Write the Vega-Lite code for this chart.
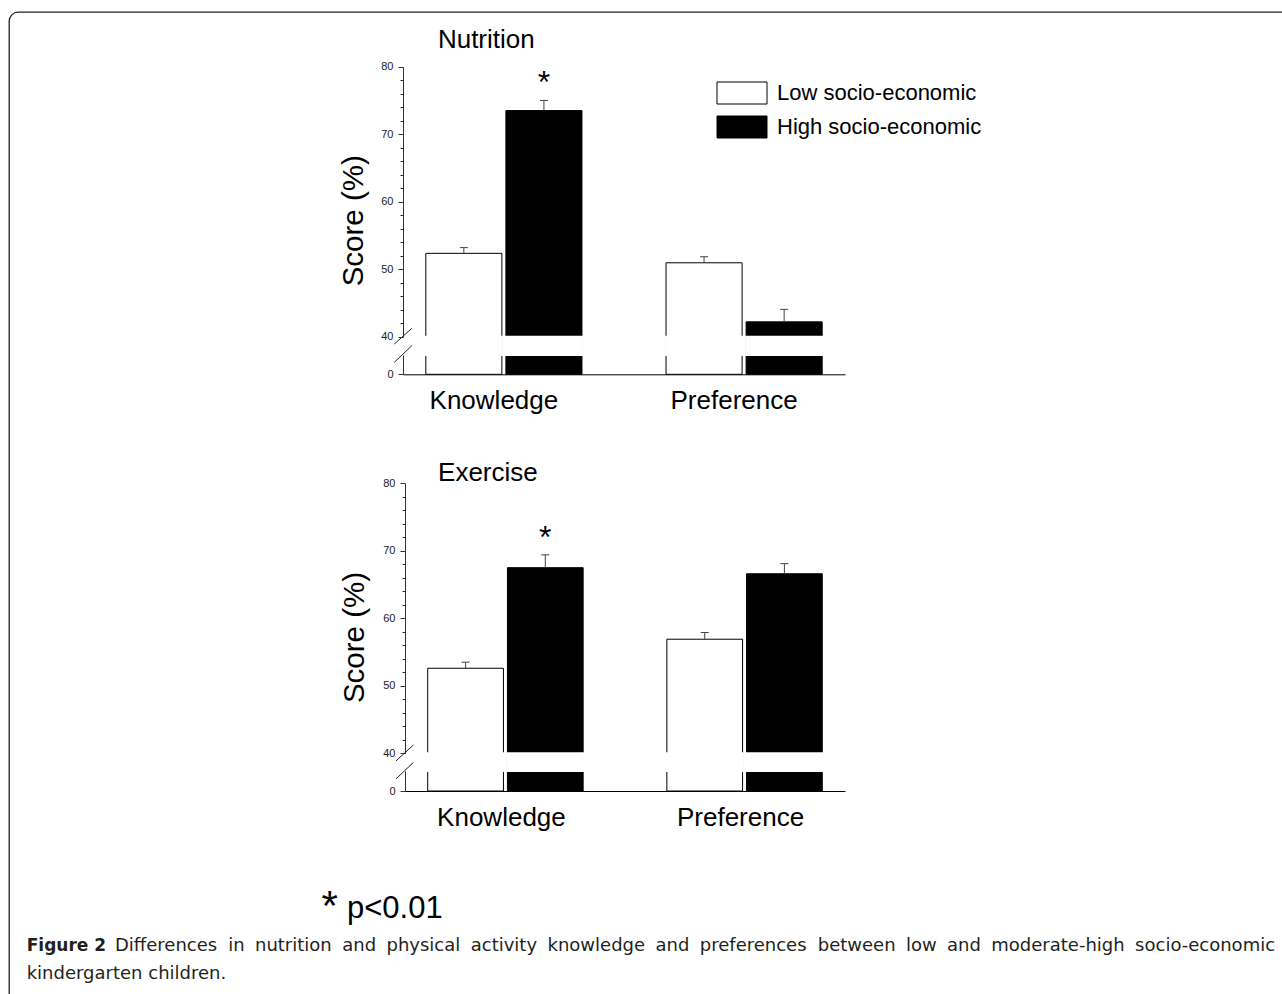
{
  "$schema": "https://vega.github.io/schema/vega-lite/v6.json",
  "width": 1290,
  "height": 1000,
  "autosize": {"type": "none"},
  "padding": {"left": 9, "top": 12, "right": 0, "bottom": 0},
  "background": "white",
  "config": {
    "view": {"stroke": "#222", "strokeWidth": 1.3, "cornerRadius": 9},
    "font": "Liberation Sans"
  },
  "datasets": {
    "nutrition": [
      {"item": "Knowledge", "group": "Low socio-economic", "score": 52.35, "upper": 53.2, "sig": ""},
      {"item": "Knowledge", "group": "High socio-economic", "score": 73.5, "upper": 75.0, "sig": "*"},
      {"item": "Preference", "group": "Low socio-economic", "score": 50.95, "upper": 51.85, "sig": ""},
      {"item": "Preference", "group": "High socio-economic", "score": 42.2, "upper": 44.05, "sig": ""}
    ],
    "exercise": [
      {"item": "Knowledge", "group": "Low socio-economic", "score": 52.6, "upper": 53.5, "sig": ""},
      {"item": "Knowledge", "group": "High socio-economic", "score": 67.5, "upper": 69.4, "sig": "*"},
      {"item": "Preference", "group": "Low socio-economic", "score": 56.9, "upper": 57.9, "sig": ""},
      {"item": "Preference", "group": "High socio-economic", "score": 66.6, "upper": 68.1, "sig": ""}
    ]
  },
  "layer": [
    {
      "data": {"name": "nutrition"},
      "layer": [
        {
          "mark": {"type": "bar", "stroke": "#000", "strokeWidth": 1},
          "encoding": {
            "x": {
              "field": "item", "type": "nominal",
              "scale": {"domain": ["Knowledge", "Preference"], "range": [394, 836], "paddingInner": 0.35, "paddingOuter": 0.095},
              "axis": {"orient": "bottom", "offset": -637.7, "title": null, "ticks": false, "labelAngle": 0, "labelFont": "Liberation Sans", "labelFontSize": 26, "labelColor": "#000", "labelPadding": 13, "labelOffset": -10, "domainColor": "#000", "domainWidth": 1, "grid": false}
            },
            "xOffset": {"field": "group", "type": "nominal", "scale": {"domain": ["Low socio-economic", "High socio-economic"], "paddingInner": 0.05, "paddingOuter": 0}},
            "y": {
              "field": "score", "type": "quantitative", "stack": null, "title": "Score (%)",
              "scale": {"domain": [0, 30, 40, 80], "range": [362.3, 343, 324.7, 54.7], "nice": false, "zero": false},
              "axis": {
                "orient": "left", "offset": -394, "grid": false,
                "values": [0, 40, 42, 44, 46, 48, 50, 52, 54, 56, 58, 60, 62, 64, 66, 68, 70, 72, 74, 76, 78, 80],
                "labelExpr": "datum.value % 10 === 0 ? datum.label : ''",
                "tickSize": {"condition": {"test": "datum.value % 10 === 0", "value": 5}, "value": 3},
                "labelOverlap": false, "labelFont": "Liberation Sans", "labelFontSize": 11, "labelColor": "#222", "labelPadding": 5,
                "domainColor": "#333", "tickColor": "#333", "domainDash": [19.3, 18.3, 400],
                "title": "Score (%)", "titleFont": "Liberation Sans", "titleFontSize": 29.5, "titleFontWeight": "normal", "titleColor": "#000",
                "titleAngle": -90, "titleX": -41, "titleY": 208.3, "titleAlign": "center", "titleBaseline": "alphabetic"
              }
            },
            "fill": {
              "field": "group", "type": "nominal",
              "scale": {"domain": ["Low socio-economic", "High socio-economic"], "range": ["#ffffff", "#000000"]},
              "legend": {"title": null, "orient": "none", "legendX": 720, "legendY": 68, "symbolType": "M-2,-0.88H2V0.88H-2Z", "symbolSize": 625, "symbolStrokeColor": "#000", "symbolStrokeWidth": 1, "symbolOpacity": 1, "labelFont": "Liberation Sans", "labelFontSize": 22, "labelColor": "#000", "labelOffset": 22, "rowPadding": 8, "labelLimit": 400}
            }
          }
        },
        {
          "mark": {"type": "bar", "fill": "#ffffff", "stroke": "#ffffff", "strokeWidth": 2},
          "encoding": {
            "x": {"field": "item", "type": "nominal"},
            "xOffset": {"field": "group", "type": "nominal"},
            "y": {"datum": 30},
            "y2": {"datum": 40}
          }
        },
        {
          "mark": {"type": "rule", "color": "#444", "strokeWidth": 1},
          "encoding": {
            "x": {"field": "item", "type": "nominal"},
            "xOffset": {"field": "group", "type": "nominal"},
            "y": {"field": "score", "type": "quantitative", "title": "Score (%)"},
            "y2": {"field": "upper"}
          }
        },
        {
          "mark": {"type": "tick", "orient": "horizontal", "color": "#444", "size": 8, "thickness": 1, "opacity": 1},
          "encoding": {
            "x": {"field": "item", "type": "nominal"},
            "xOffset": {"field": "group", "type": "nominal"},
            "y": {"field": "upper", "type": "quantitative", "title": "Score (%)"}
          }
        },
        {
          "mark": {"type": "text", "fontSize": 32, "color": "#000", "baseline": "alphabetic", "align": "center", "dy": -7},
          "encoding": {
            "x": {"field": "item", "type": "nominal"},
            "xOffset": {"field": "group", "type": "nominal"},
            "y": {"field": "upper", "type": "quantitative", "title": "Score (%)"},
            "text": {"field": "sig"}
          }
        },
        {
          "data": {"values": [{}]},
          "mark": {"type": "text", "text": "Nutrition", "fontSize": 26, "color": "#000", "align": "left", "baseline": "alphabetic", "dx": -66},
          "encoding": {"x": {"datum": "Knowledge"}, "y": {"datum": 82.7}}
        },
        {
          "data": {"values": [{}]},
          "mark": {"type": "rule", "color": "#222", "strokeWidth": 1},
          "encoding": {"x": {"value": 385.3}, "x2": {"value": 402.8}, "y": {"datum": 36.0}, "y2": {"datum": 41.24}}
        },
        {
          "data": {"values": [{}]},
          "mark": {"type": "rule", "color": "#222", "strokeWidth": 1},
          "encoding": {"x": {"value": 385.3}, "x2": {"value": 402.8}, "y": {"datum": 18.65}, "y2": {"datum": 35.08}}
        }
      ]
    },
    {
      "data": {"name": "exercise"},
      "layer": [
        {
          "mark": {"type": "bar", "stroke": "#000", "strokeWidth": 1},
          "encoding": {
            "x": {
              "field": "item", "type": "nominal",
              "scale": {"domain": ["Knowledge", "Preference"], "range": [396, 836], "paddingInner": 0.35, "paddingOuter": 0.095},
              "axis": {"orient": "bottom", "offset": -221, "title": null, "ticks": false, "labelAngle": 0, "labelFont": "Liberation Sans", "labelFontSize": 26, "labelColor": "#000", "labelPadding": 13, "labelOffset": -4, "domainColor": "#000", "domainWidth": 1, "grid": false}
            },
            "xOffset": {"field": "group", "type": "nominal", "scale": {"domain": ["Low socio-economic", "High socio-economic"], "paddingInner": 0.05, "paddingOuter": 0}},
            "y": {
              "field": "score", "type": "quantitative", "stack": null, "title": "Score (%)",
              "scale": {"domain": [0, 30, 40, 80], "range": [779, 759, 741.3, 471.3], "nice": false, "zero": false},
              "axis": {
                "orient": "left", "offset": -396, "grid": false,
                "values": [0, 40, 42, 44, 46, 48, 50, 52, 54, 56, 58, 60, 62, 64, 66, 68, 70, 72, 74, 76, 78, 80],
                "labelExpr": "datum.value % 10 === 0 ? datum.label : ''",
                "tickSize": {"condition": {"test": "datum.value % 10 === 0", "value": 5}, "value": 3},
                "labelOverlap": false, "labelFont": "Liberation Sans", "labelFontSize": 11, "labelColor": "#222", "labelPadding": 5,
                "domainColor": "#333", "tickColor": "#333", "domainDash": [20, 17.7, 400],
                "title": "Score (%)", "titleFont": "Liberation Sans", "titleFontSize": 29.5, "titleFontWeight": "normal", "titleColor": "#000",
                "titleAngle": -90, "titleX": -42, "titleY": 625, "titleAlign": "center", "titleBaseline": "alphabetic"
              }
            },
            "fill": {
              "field": "group", "type": "nominal",
              "scale": {"domain": ["Low socio-economic", "High socio-economic"], "range": ["#ffffff", "#000000"]},
              "legend": {"title": null, "orient": "none", "legendX": 720, "legendY": 68, "symbolType": "M-2,-0.88H2V0.88H-2Z", "symbolSize": 625, "symbolStrokeColor": "#000", "symbolStrokeWidth": 1, "symbolOpacity": 1, "labelFont": "Liberation Sans", "labelFontSize": 22, "labelColor": "#000", "labelOffset": 22, "rowPadding": 8, "labelLimit": 400}
            }
          }
        },
        {
          "mark": {"type": "bar", "fill": "#ffffff", "stroke": "#ffffff", "strokeWidth": 2},
          "encoding": {
            "x": {"field": "item", "type": "nominal"},
            "xOffset": {"field": "group", "type": "nominal"},
            "y": {"datum": 30},
            "y2": {"datum": 40}
          }
        },
        {
          "mark": {"type": "rule", "color": "#444", "strokeWidth": 1},
          "encoding": {
            "x": {"field": "item", "type": "nominal"},
            "xOffset": {"field": "group", "type": "nominal"},
            "y": {"field": "score", "type": "quantitative", "title": "Score (%)"},
            "y2": {"field": "upper"}
          }
        },
        {
          "mark": {"type": "tick", "orient": "horizontal", "color": "#444", "size": 8, "thickness": 1, "opacity": 1},
          "encoding": {
            "x": {"field": "item", "type": "nominal"},
            "xOffset": {"field": "group", "type": "nominal"},
            "y": {"field": "upper", "type": "quantitative", "title": "Score (%)"}
          }
        },
        {
          "mark": {"type": "text", "fontSize": 32, "color": "#000", "baseline": "alphabetic", "align": "center", "dy": -7},
          "encoding": {
            "x": {"field": "item", "type": "nominal"},
            "xOffset": {"field": "group", "type": "nominal"},
            "y": {"field": "upper", "type": "quantitative", "title": "Score (%)"},
            "text": {"field": "sig"}
          }
        },
        {
          "data": {"values": [{}]},
          "mark": {"type": "text", "text": "Exercise", "fontSize": 26, "color": "#000", "align": "left", "baseline": "alphabetic", "dx": -67.4},
          "encoding": {"x": {"datum": "Knowledge"}, "y": {"datum": 80.39}}
        },
        {
          "data": {"values": [{}]},
          "mark": {"type": "rule", "color": "#222", "strokeWidth": 1},
          "encoding": {"x": {"value": 387}, "x2": {"value": 404.5}, "y": {"datum": 35.7}, "y2": {"datum": 41.24}}
        },
        {
          "data": {"values": [{}]},
          "mark": {"type": "rule", "color": "#222", "strokeWidth": 1},
          "encoding": {"x": {"value": 387}, "x2": {"value": 404.5}, "y": {"datum": 18.15}, "y2": {"datum": 34.9}}
        }
      ]
    },
    {
      "data": {"values": [{}]},
      "layer": [
        {"mark": {"type": "text", "text": "*", "font": "Liberation Sans", "fontSize": 42, "color": "#000", "align": "left", "baseline": "alphabetic", "x": 312.5, "y": 908}},
        {"mark": {"type": "text", "text": "p<0.01", "font": "Liberation Sans", "fontSize": 31, "color": "#000", "align": "left", "baseline": "alphabetic", "x": 338, "y": 905.7}},
        {"mark": {"type": "text", "text": "Figure 2", "font": "DejaVu Sans", "fontWeight": "bold", "fontSize": 17, "color": "#231f20", "align": "left", "baseline": "alphabetic", "x": 17.7, "y": 938.7}},
        {"mark": {"type": "text", "text": "Differences", "font": "DejaVu Sans", "fontSize": 18, "color": "#231f20", "align": "left", "baseline": "alphabetic", "x": 106, "y": 938.7}},
        {"mark": {"type": "text", "text": "in", "font": "DejaVu Sans", "fontSize": 18, "color": "#231f20", "align": "left", "baseline": "alphabetic", "x": 219.2, "y": 938.7}},
        {"mark": {"type": "text", "text": "nutrition", "font": "DejaVu Sans", "fontSize": 18, "color": "#231f20", "align": "left", "baseline": "alphabetic", "x": 246.0, "y": 938.7}},
        {"mark": {"type": "text", "text": "and", "font": "DejaVu Sans", "fontSize": 18, "color": "#231f20", "align": "left", "baseline": "alphabetic", "x": 333.2, "y": 938.7}},
        {"mark": {"type": "text", "text": "physical", "font": "DejaVu Sans", "fontSize": 18, "color": "#231f20", "align": "left", "baseline": "alphabetic", "x": 377.5, "y": 938.7}},
        {"mark": {"type": "text", "text": "activity", "font": "DejaVu Sans", "fontSize": 18, "color": "#231f20", "align": "left", "baseline": "alphabetic", "x": 461.7, "y": 938.7}},
        {"mark": {"type": "text", "text": "knowledge", "font": "DejaVu Sans", "fontSize": 18, "color": "#231f20", "align": "left", "baseline": "alphabetic", "x": 538.5, "y": 938.7}},
        {"mark": {"type": "text", "text": "and", "font": "DejaVu Sans", "fontSize": 18, "color": "#231f20", "align": "left", "baseline": "alphabetic", "x": 646.5, "y": 938.7}},
        {"mark": {"type": "text", "text": "preferences", "font": "DejaVu Sans", "fontSize": 18, "color": "#231f20", "align": "left", "baseline": "alphabetic", "x": 690.8, "y": 938.7}},
        {"mark": {"type": "text", "text": "between", "font": "DejaVu Sans", "fontSize": 18, "color": "#231f20", "align": "left", "baseline": "alphabetic", "x": 808.7, "y": 938.7}},
        {"mark": {"type": "text", "text": "low", "font": "DejaVu Sans", "fontSize": 18, "color": "#231f20", "align": "left", "baseline": "alphabetic", "x": 896.9, "y": 938.7}},
        {"mark": {"type": "text", "text": "and", "font": "DejaVu Sans", "fontSize": 18, "color": "#231f20", "align": "left", "baseline": "alphabetic", "x": 938.0, "y": 938.7}},
        {"mark": {"type": "text", "text": "moderate-high", "font": "DejaVu Sans", "fontSize": 18, "color": "#231f20", "align": "left", "baseline": "alphabetic", "x": 982.3, "y": 938.7}},
        {"mark": {"type": "text", "text": "socio-economic", "font": "DejaVu Sans", "fontSize": 18, "color": "#231f20", "align": "left", "baseline": "alphabetic", "x": 1126.1, "y": 938.7}},
        {"mark": {"type": "text", "text": "kindergarten children.", "font": "DejaVu Sans", "fontSize": 18, "color": "#231f20", "align": "left", "baseline": "alphabetic", "x": 17.7, "y": 967}}
      ]
    }
  ],
  "resolve": {
    "scale": {"x": "independent", "y": "independent", "xOffset": "independent"},
    "axis": {"x": "independent", "y": "independent"}
  }
}
